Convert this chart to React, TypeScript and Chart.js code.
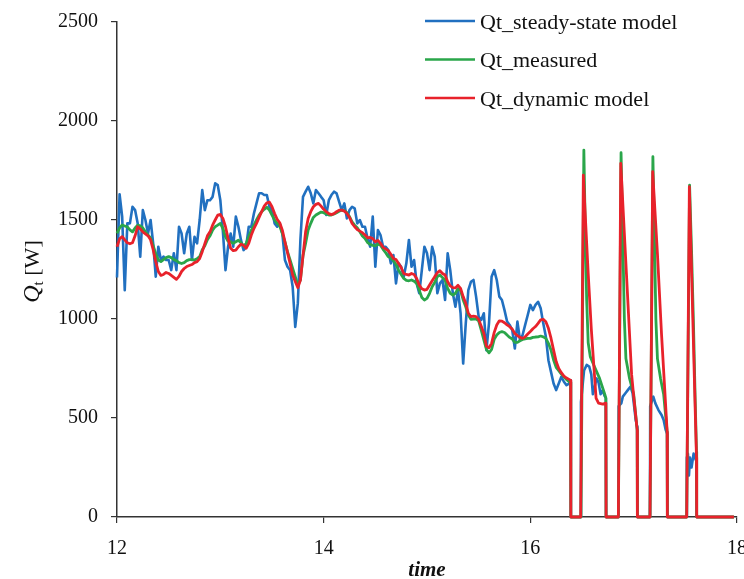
import { useEffect, useRef } from 'react';
import { Chart, registerables } from 'chart.js';

Chart.register(...registerables);

// Main continuous section: time starts at 12 h, one sample every 0.025 h (12.000 … 16.375)
const START_TIME = 12;
const TIME_STEP = 0.025;

const steadyMain = [
  1210, 1630, 1517, 1146, 1483, 1483, 1567, 1550,
  1483, 1315, 1550, 1500, 1432, 1500, 1382, 1214,
  1365, 1298, 1315, 1298, 1298, 1247, 1332, 1247,
  1466, 1432, 1332, 1432, 1466, 1298, 1415, 1382,
  1500, 1651, 1550, 1600, 1600, 1617, 1685, 1676,
  1600, 1441, 1247, 1365, 1432, 1365, 1517, 1466,
  1398, 1348, 1365, 1466, 1466, 1533, 1584, 1635,
  1635, 1626, 1626, 1567, 1550, 1483, 1466, 1483,
  1432, 1298, 1264, 1247, 1163, 960, 1080, 1400,
  1617, 1643, 1668, 1635, 1584, 1651, 1635, 1617,
  1600, 1525, 1600, 1626, 1643, 1635, 1592, 1550,
  1584, 1508, 1550, 1567, 1559, 1483, 1500, 1466,
  1466, 1407, 1365, 1517, 1264, 1449, 1424, 1365,
  1365, 1348, 1281, 1323, 1180, 1281, 1264, 1214,
  1281, 1399, 1264, 1298, 1180, 1130, 1247, 1365,
  1332, 1247, 1365, 1315, 1130, 1180, 1197, 1096,
  1332, 1247, 1130, 1062, 1146, 1029, 775, 977,
  1146, 1188, 1197, 1113, 1012, 995, 1029, 843,
  978, 1213, 1247, 1197, 1113, 1096, 1045, 987,
  970, 944, 851, 987, 894, 919, 970, 1020,
  1071, 1045, 1071, 1087, 1054, 978, 911, 792,
  733, 674, 641, 674, 708, 683, 666, 674,
];

const measuredMain = [
  1432, 1460, 1475, 1470, 1465, 1450, 1440, 1460,
  1474, 1470, 1460, 1440, 1425, 1410, 1370, 1330,
  1298, 1290, 1300, 1310, 1315, 1310, 1300, 1295,
  1285, 1280, 1285, 1295, 1300, 1300, 1298, 1305,
  1315, 1350, 1370, 1400, 1420, 1449, 1466, 1474,
  1483, 1457, 1415, 1393, 1390, 1382, 1390, 1398,
  1385, 1368, 1382, 1415, 1449, 1474, 1500, 1525,
  1542, 1554, 1564, 1550, 1525, 1500, 1483, 1470,
  1432, 1390, 1340, 1298, 1256, 1214, 1172, 1197,
  1320, 1382, 1449, 1483, 1513, 1525, 1533, 1540,
  1537, 1530, 1525, 1525, 1530, 1537, 1544, 1550,
  1547, 1537, 1517, 1491, 1474, 1461, 1441, 1419,
  1407, 1386, 1377, 1372, 1369, 1378, 1373, 1352,
  1335, 1315, 1308, 1295, 1275, 1247, 1225, 1205,
  1195, 1193, 1197, 1191, 1180, 1146, 1109, 1096,
  1104, 1130, 1163, 1185, 1214, 1222, 1209, 1197,
  1155, 1130, 1121, 1130, 1153, 1143, 1096, 1062,
  1020, 998, 1000, 1001, 991, 944, 894, 846,
  829, 846, 897, 919, 932, 936, 932, 919,
  907, 899, 882, 882, 890, 897, 900, 902,
  902, 907, 909, 910, 914, 910, 902, 877,
  843, 793, 756, 739, 722, 708, 695, 683,
];

const dynamicMain = [
  1365, 1405, 1416, 1400, 1385, 1380, 1385, 1420,
  1466, 1455, 1440, 1430, 1420, 1400, 1350, 1290,
  1240, 1220, 1225, 1235, 1230, 1220, 1210, 1200,
  1215, 1240, 1255, 1265, 1270, 1275, 1285, 1290,
  1305, 1340, 1380, 1420, 1440, 1474, 1500, 1525,
  1528, 1508, 1466, 1407, 1357, 1345, 1348, 1365,
  1378, 1372, 1357, 1382, 1424, 1457, 1483, 1513,
  1542, 1570, 1587, 1590, 1567, 1533, 1503, 1486,
  1449, 1390, 1335, 1281, 1222, 1189, 1158, 1197,
  1320, 1440, 1508, 1542, 1567, 1579, 1584, 1570,
  1554, 1542, 1532, 1527, 1532, 1542, 1550, 1550,
  1545, 1533, 1513, 1483, 1466, 1452, 1444, 1436,
  1424, 1410, 1412, 1406, 1390, 1397, 1382, 1362,
  1354, 1345, 1327, 1306, 1300, 1280, 1260, 1230,
  1225, 1222, 1230, 1225, 1205, 1172, 1153, 1146,
  1150, 1172, 1193, 1214, 1234, 1244, 1230, 1222,
  1188, 1167, 1158, 1157, 1170, 1155, 1113, 1079,
  1029, 1012, 1014, 1012, 998, 964, 928, 862,
  855, 877, 931, 970, 991, 989, 981, 970,
  961, 949, 927, 916, 907, 902, 910, 924,
  937, 951, 962, 978, 996, 998, 986, 953,
  903, 843, 785, 750, 729, 712, 702, 695,
];

// On/off cycling section: [time, Q] pairs
const steadyTail: [number, number][] = [
  [16.39, 690], [16.392, 0], [16.487, 0], [16.49, 580], [16.52, 740], [16.545, 768],
  [16.57, 760], [16.59, 720], [16.605, 620], [16.62, 650], [16.64, 700], [16.66, 680],
  [16.68, 620], [16.7, 640], [16.72, 610], [16.731, 600], [16.733, 0],
  [16.852, 0], [16.855, 560], [16.88, 574], [16.895, 608], [16.92, 625], [16.945, 642],
  [16.97, 659], [16.99, 625], [17.005, 557], [17.02, 490], [17.034, 456], [17.036, 0],
  [17.158, 0], [17.16, 560], [17.19, 608], [17.21, 574], [17.24, 540], [17.27, 515],
  [17.29, 490], [17.31, 440], [17.324, 420], [17.326, 0],
  [17.513, 0], [17.515, 300], [17.525, 320], [17.535, 210], [17.545, 300], [17.56, 250],
  [17.58, 320], [17.6, 290], [17.608, 280], [17.61, 0], [17.97, 0],
];

const measuredTail: [number, number][] = [
  [16.39, 680], [16.392, 0], [16.49, 0], [16.518, 1853], [16.53, 1500], [16.545, 1100],
  [16.56, 880], [16.58, 810], [16.62, 760], [16.67, 700], [16.72, 620], [16.731, 600], [16.733, 0],
  [16.852, 0], [16.878, 1840], [16.895, 1400], [16.91, 1000], [16.925, 800], [16.96, 700],
  [17.0, 620], [17.034, 440], [17.036, 0],
  [17.158, 0], [17.186, 1820], [17.2, 1450], [17.215, 1000], [17.23, 800], [17.26, 700],
  [17.29, 620], [17.324, 430], [17.326, 0],
  [17.513, 0], [17.541, 1676], [17.56, 1350], [17.58, 950], [17.595, 600], [17.608, 330],
  [17.61, 0], [17.97, 0],
];

const dynamicTail: [number, number][] = [
  [16.39, 690], [16.392, 0], [16.487, 0], [16.513, 1727], [16.53, 1540], [16.56, 1230],
  [16.59, 950], [16.615, 760], [16.636, 600], [16.66, 575], [16.7, 570], [16.731, 575], [16.733, 0],
  [16.852, 0], [16.875, 1786], [16.93, 1230], [16.98, 720], [17.0, 610], [17.034, 440], [17.036, 0],
  [17.158, 0], [17.184, 1744], [17.23, 1330], [17.27, 920], [17.3, 650], [17.324, 430], [17.326, 0],
  [17.513, 0], [17.539, 1668], [17.565, 1150], [17.59, 650], [17.608, 300], [17.61, 0], [17.97, 0],
];

const X_TICKS = [12, 14, 16, 18];
const Y_TICKS = [0, 500, 1000, 1500, 2000, 2500];

const LABELS = ['Qt_steady-state model', 'Qt_measured', 'Qt_dynamic model'];
const COLORS = ['#2170c0', '#2aa64a', '#e8222b'];
const WIDTHS = [2.6, 2.8, 2.8];

const SERIF = '"Liberation Serif", "Times New Roman", serif';

function buildPoints(main: number[], tail: [number, number][]) {
  const pts = main.map((v, i) => ({ x: +(START_TIME + i * TIME_STEP).toFixed(3), y: v }));
  return pts.concat(tail.map(([x, y]) => ({ x, y })));
}

const overlayPlugin = {
  id: 'overlay',
  afterDraw(chart: any) {
    const ctx = chart.ctx as CanvasRenderingContext2D;
    const area = chart.chartArea;
    ctx.save();
    // legend
    const lx = area.left + 308;
    LABELS.forEach((label, i) => {
      const y = area.top - 1 + i * 38.5;
      ctx.strokeStyle = COLORS[i];
      ctx.lineWidth = 2.5;
      ctx.beginPath();
      ctx.moveTo(lx, y);
      ctx.lineTo(lx + 50, y);
      ctx.stroke();
      ctx.fillStyle = '#111';
      ctx.font = `22px ${SERIF}`;
      ctx.textAlign = 'left';
      ctx.textBaseline = 'alphabetic';
      ctx.fillText(label, lx + 55, y + 7.5);
    });
    // x title
    ctx.font = `bold italic 21px ${SERIF}`;
    ctx.textAlign = 'center';
    ctx.fillStyle = '#111';
    ctx.fillText('time', (area.left + area.right) / 2, area.bottom + 59);
    // y title: Q_t [W]
    ctx.translate(area.left - 86, (area.top + area.bottom) / 2 + 2);
    ctx.rotate(-Math.PI / 2);
    const fQ = `italic 24px ${SERIF}`;
    const fSub = `15px ${SERIF}`;
    const fW = `22px ${SERIF}`;
    ctx.font = fQ;
    const wQ = ctx.measureText('Q').width;
    ctx.font = fSub;
    const wt = ctx.measureText('t').width;
    ctx.font = fW;
    const wW = ctx.measureText(' [W]').width;
    let x0 = -(wQ + wt + wW) / 2;
    ctx.textAlign = 'left';
    ctx.font = fQ;
    ctx.fillText('Q', x0, 8);
    x0 += wQ;
    ctx.font = fSub;
    ctx.fillText('t', x0, 12);
    x0 += wt;
    ctx.font = fW;
    ctx.fillText(' [W]', x0, 8);
    ctx.restore();
  },
};

export default function App() {
  const ref = useRef<HTMLCanvasElement | null>(null);

  useEffect(() => {
    document.body.style.margin = '0';
    const canvas = ref.current;
    if (!canvas) return;
    const mk = (i: number, main: number[], tail: [number, number][], order: number) => ({
      label: LABELS[i],
      data: buildPoints(main, tail),
      borderColor: COLORS[i],
      backgroundColor: COLORS[i],
      borderWidth: WIDTHS[i],
      pointRadius: 0,
      tension: 0,
      fill: false,
      order,
      clip: 6,
      borderJoinStyle: 'round' as const,
    });
    const chart = new Chart(canvas, {
      type: 'line',
      data: {
        datasets: [
          mk(0, steadyMain, steadyTail, 3),
          mk(1, measuredMain, measuredTail, 2),
          mk(2, dynamicMain, dynamicTail, 1),
        ],
      },
      options: {
        animation: false,
        responsive: false,
        devicePixelRatio: 1,
        parsing: false,
        normalized: true,
        layout: { padding: { top: 22, right: 7, left: 0, bottom: 0 } },
        plugins: { legend: { display: false }, tooltip: { enabled: false } },
        scales: {
          x: {
            type: 'linear',
            min: 12,
            max: 18,
            afterBuildTicks: (s: any) => {
              s.ticks = X_TICKS.map((v) => ({ value: v }));
            },
            afterFit: (s: any) => {
              s.height = 62;
              s.paddingLeft = 0;
              s.paddingRight = 0;
            },
            ticks: {
              font: { family: SERIF, size: 20 },
              color: '#111',
              padding: 14,
              maxRotation: 0,
              autoSkip: false,
              callback: (v: any) => String(v),
            },
            grid: { display: true, drawOnChartArea: false, drawTicks: true, tickLength: 6, color: '#333', lineWidth: 1.2 },
            border: { display: true, color: '#333', width: 1.5 },
          },
          y: {
            type: 'linear',
            min: 0,
            max: 2500,
            afterBuildTicks: (s: any) => {
              s.ticks = Y_TICKS.map((v) => ({ value: v }));
            },
            afterFit: (s: any) => {
              s.width = 117;
              s.paddingTop = 0;
              s.paddingBottom = 0;
            },
            ticks: {
              font: { family: SERIF, size: 20 },
              color: '#111',
              padding: 13,
              autoSkip: false,
              callback: (v: any) => String(v),
            },
            grid: { display: true, drawOnChartArea: false, drawTicks: true, tickLength: 6, color: '#333', lineWidth: 1.2 },
            border: { display: true, color: '#333', width: 1.5 },
          },
        },
      },
      plugins: [overlayPlugin],
    } as any);
    return () => chart.destroy();
  }, []);

  return (
    <div style={{ width: 744, height: 579, position: 'relative', background: '#fff' }}>
      <canvas ref={ref} width={744} height={579} style={{ display: 'block' }} />
    </div>
  );
}
